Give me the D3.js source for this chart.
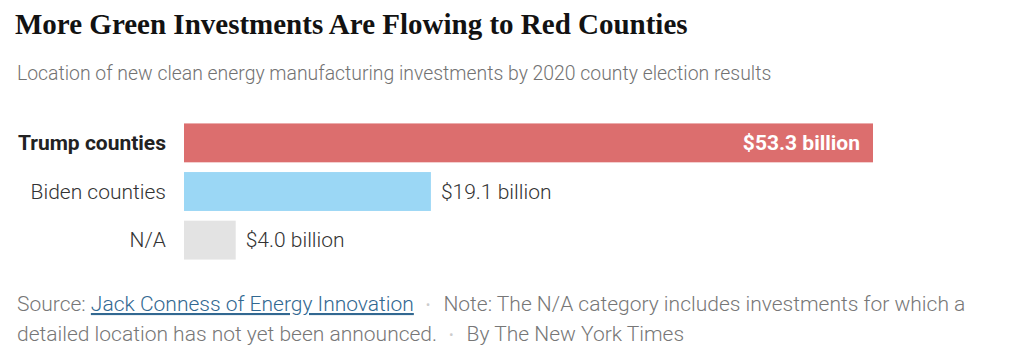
<!DOCTYPE html>
<meta charset="utf-8">
<style>
body { margin: 0; background: #fff; }
svg text { font-family: "Roboto", "Liberation Sans", sans-serif; }
.title { font-family: "Liberation Serif", serif !important; font-weight: bold; font-size: 29px; fill: #121212; }
.sub { font-size: 19.4px; fill: #727272; font-weight: 300; }
.cat { font-size: 21px; fill: #333; font-weight: 300; }
.val { font-size: 21px; fill: #333; font-weight: 300; }
.foot { font-size: 21px; fill: #777; font-weight: 300; }
.link { fill: #326891; text-decoration: underline; }
.dot { fill: #ccc; font-size: 14px; }
</style>
<svg width="1021" height="364"></svg>
<script src="https://cdn.jsdelivr.net/npm/d3@7"></script>
<script>
var categories = ["Trump counties", "Biden counties", "N/A"];
var values = [53.3, 19.1, 4.0];
var valueLabels = ["$53.3 billion", "$19.1 billion", "$4.0 billion"];
var colors = ["#dc6e6e", "#9bd7f5", "#e3e3e3"];

var svg = d3.select("svg");

svg.append("text").attr("class", "title")
    .attr("x", 15).attr("y", 34)
    .text("More Green Investments Are Flowing to Red Counties");

svg.append("text").attr("class", "sub")
    .attr("x", 17).attr("y", 80)
    .text("Location of new clean energy manufacturing investments by 2020 county election results");

var x = d3.scaleLinear().domain([0, 53.3]).range([184, 873]);
var y = d3.scaleBand().domain(categories).range([121, 262]).paddingInner(0.2).paddingOuter(0.05);

var row = svg.append("g").selectAll("g")
    .data(categories)
  .enter().append("g");

row.append("rect")
    .attr("x", x(0))
    .attr("y", function(d) { return y(d); })
    .attr("width", function(d, i) { return x(values[i]) - x(0); })
    .attr("height", y.bandwidth())
    .attr("fill", function(d, i) { return colors[i]; });

row.append("text").attr("class", "cat")
    .attr("x", 166)
    .attr("y", function(d) { return y(d) + y.bandwidth() / 2; })
    .attr("dy", "0.35em")
    .attr("text-anchor", "end")
    .style("font-weight", function(d, i) { return i === 0 ? "bold" : null; })
    .style("fill", function(d, i) { return i === 0 ? "#222" : null; })
    .text(function(d) { return d; });

row.append("text").attr("class", "val")
    .attr("x", function(d, i) { return i === 0 ? x(values[i]) - 13 : x(values[i]) + 10; })
    .attr("y", function(d) { return y(d) + y.bandwidth() / 2; })
    .attr("dy", "0.35em")
    .attr("text-anchor", function(d, i) { return i === 0 ? "end" : "start"; })
    .style("font-weight", function(d, i) { return i === 0 ? "bold" : null; })
    .style("fill", function(d, i) { return i === 0 ? "#fff" : null; })
    .text(function(d, i) { return valueLabels[i]; });

var f1 = svg.append("text").attr("class", "foot").attr("x", 17).attr("y", 311);
f1.append("tspan").text("Source: ");
f1.append("tspan").attr("class", "link").text("Jack Conness of Energy Innovation");
f1.append("tspan").attr("class", "dot").attr("dx", 12).attr("dy", -1).text("\u2022");
f1.append("tspan").attr("dx", 13).attr("dy", 1).text("Note: The N/A category includes investments for which a");

var f2 = svg.append("text").attr("class", "foot").attr("x", 17).attr("y", 341);
f2.append("tspan").text("detailed location has not yet been announced.");
f2.append("tspan").attr("class", "dot").attr("dx", 12).attr("dy", -1).text("\u2022");
f2.append("tspan").attr("dx", 13).attr("dy", 1).text("By The New York Times");
</script>
